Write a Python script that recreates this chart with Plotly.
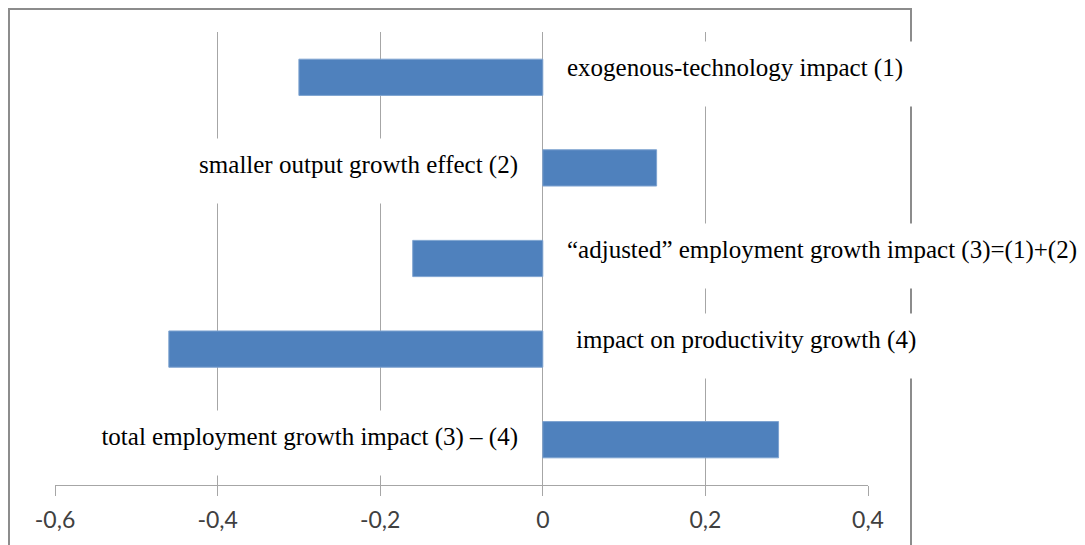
import plotly.graph_objects as go

# effect labels, top to bottom
effects = [
    "exogenous-technology impact (1)",
    "smaller output growth effect (2)",
    "\u201cadjusted\u201d employment growth impact (3)=(1)+(2)",
    "impact on productivity growth (4)",
    "total employment growth impact (3) \u2013 (4)",
]
impact = [-0.30, 0.14, -0.16, -0.46, 0.29]

tick_vals = [-0.6, -0.4, -0.2, 0, 0.2, 0.4]
tick_text = ["-0,6", "-0,4", "-0,2", "0", "0,2", "0,4"]

GRID = "#a6a6a6"
LABEL_FONT = dict(family="Liberation Serif", size=25, color="black")

fig = go.Figure()
fig.add_trace(go.Bar(
    x=impact, y=effects, orientation="h", width=0.4,
    marker=dict(color="#4f81bd", line=dict(color="#7ea3d0", width=1)),
    showlegend=False,
))

# label boxes: white background hides the gridlines behind the text
label_side = ["right", "left", "right", "right", "left"]
box_width = [345, 340, 520, 345, 460]
label_shift = [11, -12, 11, 20, -12]
for name, side, w, dx in zip(effects, label_side, box_width, label_shift):
    right = side == "right"
    fig.add_annotation(x=0, y=name, xref="x", yref="y", text=name,
                       xanchor="left" if right else "right",
                       align="left" if right else "right",
                       xshift=dx, yshift=3 if right else -3,
                       width=w, height=40, valign="top", borderpad=12,
                       bgcolor="white", showarrow=False, font=LABEL_FONT)

# outer chart frame
fig.add_shape(type="rect", xref="paper", yref="paper",
              x0=-0.0566, x1=1.0529, y0=-0.2, y1=1.0508,
              line=dict(color="#8c8c8c", width=2), layer="below")

fig.update_layout(
    width=1085, height=545,
    margin=dict(l=47, r=225, t=24, b=68),
    plot_bgcolor="white", paper_bgcolor="white",
    bargap=0.6,
    xaxis=dict(range=[-0.6, 0.4], tickvals=tick_vals, ticktext=tick_text,
               showgrid=True, gridcolor=GRID, gridwidth=1, zeroline=False,
               showline=True, linecolor=GRID, linewidth=1,
               ticks="outside", ticklen=10, tickcolor=GRID,
               ticklabelstandoff=4,
               tickfont=dict(family="Lato", size=23, color="#404040")),
    yaxis=dict(autorange="reversed", showticklabels=False, showgrid=False,
               zeroline=False, showline=False, ticks=""),
)

fig.write_html("out.html")
